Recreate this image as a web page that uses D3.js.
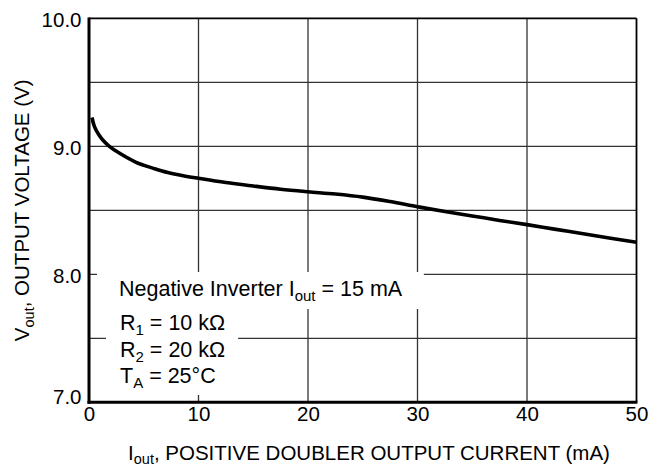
<!DOCTYPE html>
<html>
<head>
<meta charset="utf-8">
<script src="https://cdn.jsdelivr.net/npm/d3@7"></script>
<style>
  html, body { margin: 0; padding: 0; background: #fff; }
  svg { display: block; font-family: "Liberation Sans", Arial, Helvetica, sans-serif; }
</style>
</head>
<body>
<svg id="chart" width="660" height="467"></svg>
<script>
// ---- data ----
const currentMA = [0.27, 0.49, 0.9, 1.3, 1.86, 2.8, 4.3, 6.0, 7.2, 8.6, 10.0, 12.5, 15.0, 17.5, 20.0, 22.5, 25.0, 27.5, 30.0, 32.5, 35.0, 37.5, 40.0, 42.5, 45.0, 47.5, 50.0];
const voltageV  = [9.225, 9.156, 9.09, 9.045, 9.00, 8.945, 8.875, 8.825, 8.795, 8.77, 8.75, 8.717, 8.69, 8.665, 8.645, 8.627, 8.603, 8.568, 8.528, 8.49, 8.456, 8.421, 8.388, 8.353, 8.319, 8.284, 8.25];
const xTicks = [0, 10, 20, 30, 40, 50];
const yTicks = [7.0, 8.0, 9.0, 10.0];
const xGrid = [10, 20, 30, 40];
const yGrid = [7.5, 8.0, 8.5, 9.0, 9.5];
const legendLine1 = ["Negative Inverter I", "out", " = 15 mA"];
const legendLines = [["R", "1", " = 10 kΩ"], ["R", "2", " = 20 kΩ"], ["T", "A", " = 25°C"]];

// ---- layout ----
const svg = d3.select("#chart");
const pL = 89, pR = 636.5, pT = 18.3, pB = 402.3;
const x = d3.scaleLinear().domain([0, 50]).range([pL, pR]);
const y = d3.scaleLinear().domain([7, 10]).range([pB, pT]);
const FS = 20.5;
const LFS = 21.5;

// gridlines
svg.append("g").selectAll("line").data(xGrid).join("line")
  .attr("x1", d => x(d)).attr("x2", d => x(d))
  .attr("y1", pT).attr("y2", pB)
  .attr("stroke", "#333").attr("stroke-width", 1.3);
svg.append("g").selectAll("line").data(yGrid).join("line")
  .attr("x1", pL).attr("x2", pR)
  .attr("y1", d => y(d)).attr("y2", d => y(d))
  .attr("stroke", "#333").attr("stroke-width", 1.3);

// curve
const line = d3.line().x((d, i) => x(currentMA[i])).y(d => y(d)).curve(d3.curveCatmullRom.alpha(0.5));
svg.append("path").datum(voltageV)
  .attr("d", line).attr("fill", "none")
  .attr("stroke", "#000").attr("stroke-width", 3.6).attr("stroke-linecap", "butt");

// legend
const legG = svg.append("g");
const box1 = legG.append("rect").attr("fill", "#fff");
const box2 = legG.append("rect").attr("fill", "#fff");
function subText(g, parts, tx, ty) {
  const t = g.append("text").attr("x", tx).attr("y", ty).attr("font-size", LFS).attr("fill", "#000");
  t.append("tspan").text(parts[0]);
  t.append("tspan").attr("font-size", 15).attr("dy", 5).text(parts[1]);
  t.append("tspan").attr("dy", -5).text(parts[2]);
  return t;
}
const t1 = subText(legG, legendLine1, 119, 296);
const ts = legendLines.map((p, i) => subText(legG, p, 120, 330 + i * 26.7));
const b1 = t1.node().getBBox();
box1.attr("x", 97).attr("y", 272).attr("width", b1.x + b1.width + 21 - 97).attr("height", 37);
let maxR = 0;
ts.forEach(t => { const b = t.node().getBBox(); maxR = Math.max(maxR, b.x + b.width); });
box2.attr("x", 106).attr("y", 308).attr("width", maxR + 13 - 106).attr("height", 87);

// frame
svg.append("line").attr("x1", pL).attr("x2", pR).attr("y1", pT).attr("y2", pT).attr("stroke", "#000").attr("stroke-width", 1.8);
svg.append("line").attr("x1", pR).attr("x2", pR).attr("y1", pT).attr("y2", pB).attr("stroke", "#000").attr("stroke-width", 1.8);
svg.append("line").attr("x1", pL).attr("x2", pL).attr("y1", pT - 0.9).attr("y2", pB + 1.5).attr("stroke", "#000").attr("stroke-width", 3);
svg.append("line").attr("x1", pL - 1.5).attr("x2", pR + 0.9).attr("y1", pB).attr("y2", pB).attr("stroke", "#000").attr("stroke-width", 3);

// axes (labels only)
const xAxis = d3.axisBottom(x).tickValues(xTicks).tickSize(0).tickPadding(0).tickFormat(d3.format("d"));
const gx = svg.append("g").attr("transform", `translate(0,${pB})`).call(xAxis);
gx.select(".domain").remove();
gx.selectAll("text").attr("font-size", FS).attr("font-family", null).attr("fill", "#000")
  .attr("dy", null).attr("y", 19);

const yAxis = d3.axisLeft(y).tickValues(yTicks).tickSize(0).tickPadding(7.5).tickFormat(d3.format(".1f"));
const gy = svg.append("g").attr("transform", `translate(${pL},0)`).call(yAxis);
gy.select(".domain").remove();
gy.selectAll("text").attr("font-size", FS).attr("font-family", null).attr("fill", "#000")
  .attr("dy", d => d === 7 ? "0.05em" : "0.38em");

// axis titles
const xt = svg.append("text").attr("x", 369).attr("y", 459.5).attr("text-anchor", "middle").attr("font-size", FS).attr("fill", "#000");
xt.append("tspan").text("I");
xt.append("tspan").attr("font-size", 14.5).attr("dy", 4).text("out");
xt.append("tspan").attr("dy", -4).text(", POSITIVE DOUBLER OUTPUT CURRENT (mA)");

const yt = svg.append("text").attr("transform", `translate(28.5,${(pT + pB) / 2}) rotate(-90)`)
  .attr("text-anchor", "middle").attr("font-size", FS).attr("fill", "#000");
yt.append("tspan").text("V");
yt.append("tspan").attr("font-size", 14.5).attr("dy", 5).text("out");
yt.append("tspan").attr("dy", -5).text(", OUTPUT VOLTAGE (V)");
</script>
</body>
</html>
